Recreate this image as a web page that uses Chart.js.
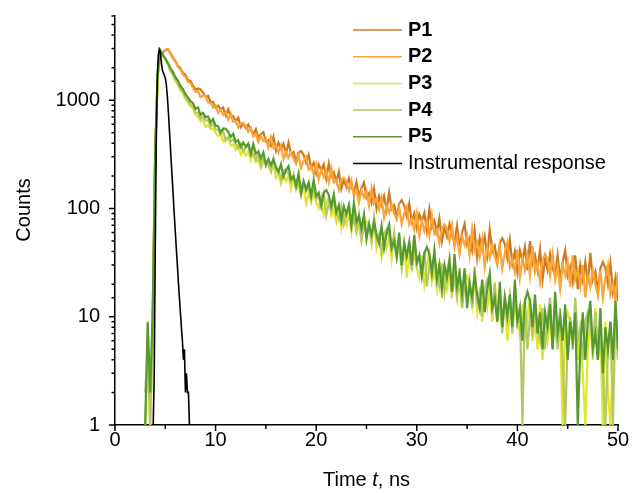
<!DOCTYPE html>
<html><head><meta charset="utf-8">
<script src="https://cdn.jsdelivr.net/npm/chart.js@4.4.1/dist/chart.umd.min.js"></script>
<style>html,body{margin:0;padding:0;background:#fff}canvas{display:block}</style>
</head><body>
<canvas id="c" width="633" height="493"></canvas>
<script>
// ---- data ----
const timeNs = [
3,3.25,3.5,3.75,4,4.25,4.5,4.75,5,5.25,
5.5,5.75,6,6.25,6.5,6.75,7,7.25,7.5,7.75,
8,8.25,8.5,8.75,9,9.25,9.5,9.75,10,10.25,
10.5,10.75,11,11.25,11.5,11.75,12,12.25,12.5,12.75,
13,13.25,13.5,13.75,14,14.25,14.5,14.75,15,15.25,
15.5,15.75,16,16.25,16.5,16.75,17,17.25,17.5,17.75,
18,18.25,18.5,18.75,19,19.25,19.5,19.75,20,20.25,
20.5,20.75,21,21.25,21.5,21.75,22,22.25,22.5,22.75,
23,23.25,23.5,23.75,24,24.25,24.5,24.75,25,25.25,
25.5,25.75,26,26.25,26.5,26.75,27,27.25,27.5,27.75,
28,28.25,28.5,28.75,29,29.25,29.5,29.75,30,30.25,
30.5,30.75,31,31.25,31.5,31.75,32,32.25,32.5,32.75,
33,33.25,33.5,33.75,34,34.25,34.5,34.75,35,35.25,
35.5,35.75,36,36.25,36.5,36.75,37,37.25,37.5,37.75,
38,38.25,38.5,38.75,39,39.25,39.5,39.75,40,40.25,
40.5,40.75,41,41.25,41.5,41.75,42,42.25,42.5,42.75,
43,43.25,43.5,43.75,44,44.25,44.5,44.75,45,45.25,
45.5,45.75,46,46.25,46.5,46.75,47,47.25,47.5,47.75,
48,48.25,48.5,48.75,49,49.25,49.5,49.75,50,50.25];

const countsP1 = [
null,null,null,10,330,1700,2500,2760,2920,2980,
2740,2480,2310,2080,1980,1790,1720,1540,1510,1370,
1254,1286,1259,1179,1069,1101,958,965,852,890,
824,856,724,828,705,717,637,690,565,612,
555,597,530,488,540,447,486,507,417,429,
381,460,343,406,356,395,321,406,318,332,
272,328,339,312,264,312,238,264,210,256,
226,256,191,261,197,215,177,218,152,185,
159,190,158,140,176,129,155,174,126,138,
113,151,100,130,108,130,97,140,99,107,
84,111,119,107,85,111,76,90,66,88,
76,91,62,98,67,77,60,81,50,67,
55,72,57,49,69,44,60,72,46,53,
41,63,35,53,42,55,37,64,40,45,
32,48,53,47,35,51,31,40,26,41,
33,44,27,50,31,37,27,42,22,34,
27,38,28,24,37,22,32,41,24,29,
21,37,18,30,22,32,20,39,22,26,
17,28,32,28,20,31,17,23,14,24];

const countsP2 = [
null,null,null,10,330,1700,2500,2750,2900,2950,
2700,2440,2265,2030,1920,1730,1650,1475,1440,1305,
1200,1225,1069,1097,1095,953,947,857,900,765,
814,735,771,665,754,637,642,561,613,612,
579,511,561,461,488,411,464,421,445,366,
455,362,384,328,383,285,333,295,331,287,
259,309,238,276,301,229,245,208,257,185,
227,194,223,174,234,174,185,149,184,192,
177,146,180,130,149,114,146,127,145,106,
153,111,123,99,126,83,106,91,109,90,
79,103,72,90,104,71,80,64,89,56,
77,62,77,56,86,58,64,48,66,71,
65,50,70,44,55,38,55,46,57,37,
64,41,48,36,52,29,43,35,46,36,
30,45,28,39,48,29,35,26,42,23,
35,27,37,24,45,26,31,21,33,38,
34,24,38,22,29,18,30,24,32,19,
37,22,27,19,30,15,24,19,27,20,
16,27,15,23,30,16,20,14,26,12];

const countsP3 = [
1,4,1,6,300,1800,2850,2600,2370,2140,
1870,1700,1500,1400,1230,1160,1020,960,870,845,
728,712,643,666,566,587,539,549,500,465,
493,417,443,455,382,389,348,383,314,344,
307,335,278,338,270,279,236,270,274,253,
218,255,193,214,168,203,179,198,152,198,
151,164,133,165,111,138,117,137,114,101,
128,88,111,126,86,96,76,104,66,88,
71,88,61,97,63,69,50,70,75,66,
50,71,43,54,36,53,43,54,34,58,
36,44,31,47,23,36,28,39,28,23,
37,20,30,39,21,26,18,32,15,25,
18,26,15,33,16,20,12,21,24,20,
13,24,11,16,9,17,12,18,9,21,
10,14,8,16,6,11,8,13,9,7,
13,6,10,15,6,9,5,13,4,9,
6,10,5,15,6,8,1,9,11,9,
5,12,4,7,3,1,5,9,4,12,
5,7,1,9,2,1,4,8,4,3];

const countsP4 = [
2,5,1,8,330,1850,2880,2620,2400,2180,
1900,1745,1550,1440,1270,1200,1060,1000,910,885,
771,765,676,706,652,655,572,614,539,535,
480,518,423,457,416,438,393,363,395,336,
363,383,307,320,278,325,249,288,254,277,
223,289,219,229,185,223,229,208,176,206,
152,175,131,167,144,164,119,166,122,132,
105,137,86,113,95,115,93,80,105,72,
92,108,69,79,61,88,52,73,58,73,
49,84,51,58,40,59,64,56,42,59,
35,45,28,45,36,47,27,51,30,36,
25,40,19,30,23,33,24,19,31,17,
26,35,17,22,15,28,12,21,15,22,
12,29,14,17,10,18,22,18,12,20,
9,14,7,15,11,16,7,19,9,12,
1,15,5,10,7,12,8,6,12,5,
10,15,6,8,5,12,4,1,6,10,
5,15,6,8,4,9,11,9,5,11,
4,7,3,1,5,9,1,12,4,7];

const countsP5 = [
1,9,2,12,350,1900,2900,2640,2430,2215,
1985,1830,1640,1520,1355,1270,1135,1062,975,942,
832,860,732,765,698,708,626,670,584,576,
505,549,546,511,457,489,412,428,369,407,
372,399,322,394,321,335,289,329,252,286,
251,284,242,217,257,197,227,246,186,197,
162,211,141,179,150,174,132,183,131,140,
106,140,148,133,105,135,92,107,78,105,
88,107,70,112,75,85,65,88,52,71,
57,75,57,48,69,43,59,71,43,50,
36,60,30,48,36,49,30,57,32,37,
24,39,44,38,26,41,22,30,18,30,
23,33,17,38,19,25,16,28,12,20,
15,24,16,12,22,11,18,25,12,15,
9,21,8,15,10,16,8,22,9,12,
6,14,17,14,8,16,7,11,5,11,
8,13,5,17,7,10,6,13,4,9,
6,11,1,5,11,4,9,14,5,7,
4,12,3,8,5,9,4,14,5,7];

const irfTimeNs = [3.8,3.9,4.0,4.1,4.2,4.3,4.4,4.5,4.6,4.7,4.8,4.9,5.0,5.1,5.2,5.3,5.4,5.5,5.6,5.7,5.8,5.9,6.0,6.1,6.2,6.3,6.4,6.5,6.6,6.7,6.8,6.9,7.0,7.1,7.2,7.3,7.4,7.5];
const irfCounts = [1,3,40,400,1500,2600,2950,2800,2300,1900,1800,1700,1600,1400,1100,800,550,380,260,180,125,85,60,42,30,21,15,11,8,6,4,5,2,3,2,2,1,1];

const seriesNames = ['P1','P2','P3','P4','P5','Instrumental response'];
const yTickLabels = [1,10,100,1000];
const xTickLabels = [0,10,20,30,40,50];
const xTitleParts = ['Time ','t',', ns'];
const yTitleText = 'Counts';

// ---- styles ----
const colors = ['#CD7A1E','#FBA437','#E2E52C','#B4C965','#56992E','#000000'];
const FONT = '"Liberation Sans", Arial, Helvetica, sans-serif';
Chart.defaults.font.family = FONT;
Chart.defaults.color = '#000';

function pts(xs, ys){ const out=[]; for(let i=0;i<xs.length;i++){ if(ys[i]!==null) out.push({x:xs[i], y:ys[i]}); } return out; }

const seriesData = [countsP1,countsP2,countsP3,countsP4,countsP5];
const datasets = seriesData.map((arr,k)=>({
  label: seriesNames[k], data: pts(timeNs, arr), borderColor: colors[k],
  borderWidth: 2.2, pointRadius: 0, order: 5-k, tension: 0, borderJoinStyle: 'miter'
}));
datasets.push({label: seriesNames[5], data: pts(irfTimeNs, irfCounts), borderColor: colors[5], borderWidth: 1.6, pointRadius: 0, order: 0, tension: 0});

const tickMarks = {
  id: 'tickMarks',
  afterDraw(c){
    const {ctx, chartArea:a, scales:{x, y}} = c;
    ctx.save(); ctx.strokeStyle = '#000'; ctx.lineWidth = 1.5; ctx.beginPath();
    y.ticks.forEach(t => {
      const py = y.getPixelForValue(t.value);
      const lg = Math.log10(t.value);
      const major = Math.abs(lg - Math.round(lg)) < 1e-9;
      ctx.moveTo(a.left, py); ctx.lineTo(a.left - (major ? 6 : 3.5), py);
    });
    x.ticks.forEach(t => {
      const px = x.getPixelForValue(t.value);
      ctx.moveTo(px, a.bottom); ctx.lineTo(px, a.bottom + (t.value % 10 === 0 ? 6 : 4));
    });
    ctx.stroke(); ctx.restore();
  }
};

const titlesAndLegend = {
  id: 'titlesAndLegend',
  afterDraw(c){
    const {ctx, chartArea:a} = c;
    ctx.save();
    ctx.fillStyle = '#000';
    ctx.font = '20px ' + FONT;
    ctx.translate(24, 210); ctx.rotate(-Math.PI/2);
    ctx.textAlign = 'center'; ctx.textBaseline = 'middle';
    ctx.fillText(yTitleText, 0, 0);
    ctx.setTransform(1,0,0,1,0,0);
    const fonts = ['20px ' + FONT, 'italic 20px ' + FONT, '20px ' + FONT];
    let total = 0; const widths = [];
    xTitleParts.forEach((s,i) => { ctx.font = fonts[i]; const w = ctx.measureText(s).width; widths.push(w); total += w; });
    let cx = (a.left + a.right)/2 - total/2;
    ctx.textAlign = 'left'; ctx.textBaseline = 'alphabetic';
    xTitleParts.forEach((s,i) => { ctx.font = fonts[i]; ctx.fillText(s, cx, 486); cx += widths[i]; });
    ctx.textBaseline = 'middle';
    seriesNames.forEach((name,k) => {
      const yy = 30 + k*26.7;
      ctx.strokeStyle = colors[k]; ctx.lineWidth = 1.5;
      ctx.beginPath(); ctx.moveTo(353, yy); ctx.lineTo(402, yy); ctx.stroke();
      ctx.font = (k < 5 ? 'bold ' : '') + '20px ' + FONT;
      ctx.fillText(name, 408, yy);
    });
    ctx.restore();
  }
};

new Chart(document.getElementById('c'), {
  type: 'line',
  data: { datasets },
  options: {
    responsive: false, animation: false, events: [],
    layout: { padding: { top: 16, right: 15, left: 0, bottom: 0 } },
    plugins: { legend: { display: false }, tooltip: { enabled: false } },
    scales: {
      x: {
        type: 'linear', min: 0, max: 50,
        grid: { display: false, drawTicks: false },
        border: { display: true, color: '#000', width: 1.5 },
        ticks: { stepSize: 5, autoSkip: false, maxRotation: 0, padding: 3, color: '#000', font: { size: 20 },
          callback: v => xTickLabels.includes(v) ? String(v) : '' },
        afterFit: s => { s.height = 68; s.paddingLeft = 0; s.paddingRight = 0; }
      },
      y: {
        type: 'logarithmic', min: 1, max: 6000,
        grid: { display: false, drawTicks: false },
        border: { display: true, color: '#000', width: 1.5 },
        ticks: { autoSkip: false, padding: 15, color: '#000', font: { size: 20 },
          callback: v => yTickLabels.includes(v) ? String(v) : '' },
        afterFit: s => { s.width = 115; s.paddingTop = 0; s.paddingBottom = 0; }
      }
    }
  },
  plugins: [tickMarks, titlesAndLegend]
});
</script>
</body></html>
